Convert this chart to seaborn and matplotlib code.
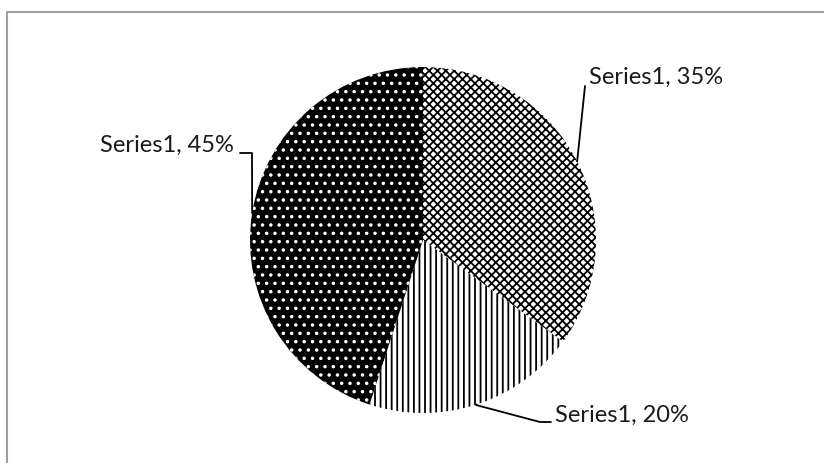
import numpy as np
import matplotlib
matplotlib.use("Agg")
import matplotlib.pyplot as plt
import seaborn as sns
from matplotlib.patches import Rectangle

sns.set_style("white")
plt.rcParams['font.family'] = ['Lato', 'DejaVu Sans']
plt.rcParams['hatch.linewidth'] = 1.3

# data
series_name = "Series1"
shares = [35, 20, 45]
labels = [f"{series_name}, {v}%" for v in shares]
hatches = ['xxxx', '|||', '..']
faces = ['white', 'white', 'black']
edges = ['black', 'black', 'white']

W, H = 824, 463
fig = plt.figure(figsize=(W / 100, H / 100), dpi=100)
ax = fig.add_axes([0, 0, 1, 1])

R = 173.0  # pixel radius
cx, cy = 423.0, 240.0

wedges, _ = ax.pie(shares, startangle=90, counterclock=False, radius=1,
                   center=(0, 0), frame=False)
ax.set_xlim(-cx / R, (W - cx) / R)
ax.set_ylim(-(H - cy) / R, cy / R)
for w, h, fc, ec in zip(wedges, hatches, faces, edges):
    w.set_facecolor(fc)
    w.set_edgecolor(ec)
    w.set_hatch(h)
    w.set_linewidth(0)

def px(x, y):
    return ((x - cx) / R, (cy - y) / R)

# label anchors on wedges
mid = [np.deg2rad((w.theta1 + w.theta2) / 2) for w in wedges]
angles = [mid[0], mid[1], np.deg2rad(171)]

def edge_pt(a):
    return (np.cos(a), np.sin(a))

fs = 17
tc = '#1a1a1a'
# 35%
p0 = edge_pt(angles[0])
q0 = px(585, 86)
ax.plot([p0[0], q0[0]], [p0[1], q0[1]], color='black', lw=1.3)
ax.text(*px(589, 77), labels[0], ha='left', va='center', fontsize=fs, color=tc)
# 20%
p1 = edge_pt(angles[1])
a1 = px(476, 405)
b1 = px(540, 422)
c1 = px(551, 422)
ax.plot([p1[0], a1[0], b1[0], c1[0]], [p1[1], a1[1], b1[1], c1[1]], color='black', lw=1.3)
ax.text(*px(555, 415), labels[1], ha='left', va='center', fontsize=fs, color=tc)
# 45%
p2 = edge_pt(angles[2])
a2 = px(252, 153)
b2 = px(240, 153)
ax.plot([p2[0], a2[0], b2[0]], [p2[1], a2[1], b2[1]], color='black', lw=1.3)
ax.text(*px(234, 145), labels[2], ha='right', va='center', fontsize=fs, color=tc)

ax.set_axis_off()

# outer chart frame (only top and left visible)
fig.patches.append(Rectangle((7.5 / W, -0.2), 1.2, (H - 11.5) / H + 0.2,
                             transform=fig.transFigure, fill=False,
                             edgecolor='#a0a0a0', lw=1.5))

fig.savefig("out.png", dpi=100)
